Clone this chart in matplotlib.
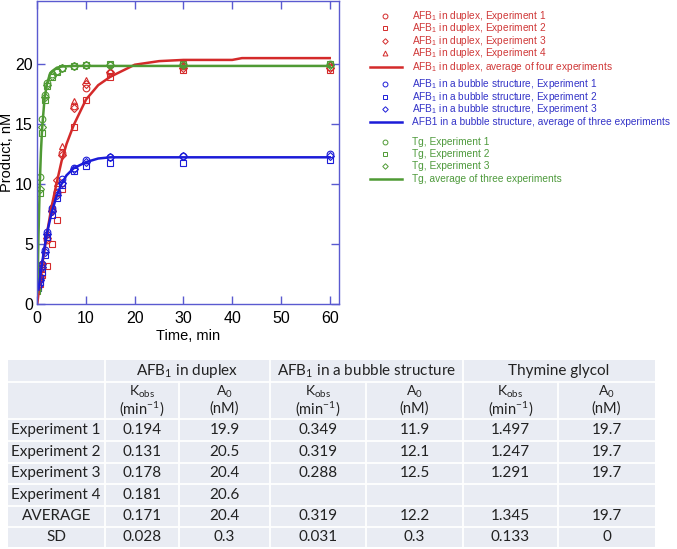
import matplotlib
matplotlib.use("Agg")
import matplotlib.pyplot as plt
from matplotlib.lines import Line2D
from matplotlib.patches import Rectangle

plt.rcParams['mathtext.default'] = 'regular'
plt.rcParams['font.family'] = ['Liberation Sans', 'DejaVu Sans']

# ---------------- data ----------------
t_pts = [0.25, 0.5, 1, 2, 3, 4, 5, 7.5, 10, 15, 30, 60]
duplex_exp1 = [1.9, 2.2, 3.0, 5.3, 7.8, 9.2, 12.6, 16.5, 18.0, 19.2, 19.8, 19.7]
duplex_exp2 = [1.4, 1.7, 2.4, 3.2, 5.0, 7.0, 9.6, 14.7, 17.0, 18.9, 19.5, 19.5]
duplex_exp3 = [2.0, 2.3, 3.3, 5.5, 7.7, 10.3, 12.4, 16.3, 18.3, 19.3, 19.6, 19.6]
duplex_exp4 = [2.1, 2.5, 3.5, 5.8, 8.2, 10.1, 13.1, 16.9, 18.6, 19.5, 19.9, 20.0]

t_bub = [0.25, 0.5, 1, 1.5, 2, 3, 4, 5, 7.5, 10, 15, 30, 60]
bubble_exp1 = [1.6, 2.2, 3.3, 4.5, 6.0, 8.0, 9.3, 10.4, 11.3, 12.0, 12.2, 12.3, 12.45]
bubble_exp2 = [1.3, 1.8, 2.7, 4.1, 5.6, 7.4, 8.8, 9.9, 11.1, 11.5, 11.7, 11.75, 12.0]
bubble_exp3 = [1.5, 2.0, 3.1, 4.3, 5.8, 7.7, 9.1, 10.1, 11.2, 11.8, 12.2, 12.3, 12.3]

t_tg = [0, 0.5, 1, 1.5, 2, 3, 4, 5, 7.5, 10, 15, 30, 60]
tg_exp1 = [1.2, 10.6, 15.4, 17.4, 18.4, 19.1, 19.4, 19.6, 19.8, 19.9, 19.9, 20.0, 20.0]
tg_exp2 = [1.1, 9.2, 14.2, 17.0, 18.1, 18.9, 19.3, 19.6, 19.8, 19.9, 20.0, 20.0, 20.0]
tg_exp3 = [1.2, 9.6, 14.7, 17.2, 18.2, 19.0, 19.4, 19.6, 19.8, 19.9, 19.9, 19.9, 19.9]

t_fit_duplex = [0, 0.5, 1, 2, 3, 4, 5, 6, 7.5, 10, 12.5, 15, 20, 25, 30, 40, 42, 50, 60]
fit_duplex = [0, 1.7, 3.2, 5.9, 8.2, 10.1, 11.9, 13.3, 14.9, 17.0, 18.2, 18.9, 19.9, 20.2, 20.3, 20.3, 20.45, 20.45, 20.45]
t_fit_bubble = [0.25, 0.5, 1, 1.5, 2, 3, 4, 5, 6, 7.5, 10, 12.5, 15, 20, 30, 60]
fit_bubble = [1.2, 1.9, 3.4, 4.7, 5.9, 7.7, 9.0, 10.0, 10.7, 11.3, 11.8, 12.1, 12.2, 12.2, 12.2, 12.2]
t_fit_tg = [0.05, 0.25, 0.5, 0.75, 1, 1.5, 2, 2.5, 3, 4, 5, 7.5, 10, 60]
fit_tg = [1.0, 5.6, 9.7, 12.6, 14.6, 17.1, 18.3, 19.0, 19.35, 19.65, 19.75, 19.8, 19.8, 19.8]

x_ticks = [0, 10, 20, 30, 40, 50, 60]
y_ticks = [0, 5, 10, 15, 20]

legend_labels_duplex = [r"AFB$_1$ in duplex, Experiment 1", r"AFB$_1$ in duplex, Experiment 2",
                        r"AFB$_1$ in duplex, Experiment 3", r"AFB$_1$ in duplex, Experiment 4",
                        r"AFB$_1$ in duplex, average of four experiments"]
legend_labels_bubble = [r"AFB$_1$ in a bubble structure, Experiment 1",
                        r"AFB$_1$ in a bubble structure, Experiment 2",
                        r"AFB$_1$ in a bubble structure, Experiment 3",
                        "AFB1 in a bubble structure, average of three experiments"]
legend_labels_tg = ["Tg, Experiment 1", "Tg, Experiment 2", "Tg, Experiment 3",
                    "Tg, average of three experiments"]

table_groups = [r"AFB$_1$ in duplex", r"AFB$_1$ in a bubble structure", "Thymine glycol"]
table_row_labels = ["Experiment 1", "Experiment 2", "Experiment 3", "Experiment 4", "AVERAGE", "SD"]
table_cells = [
    ["0.194", "19.9", "0.349", "11.9", "1.497", "19.7"],
    ["0.131", "20.5", "0.319", "12.1", "1.247", "19.7"],
    ["0.178", "20.4", "0.288", "12.5", "1.291", "19.7"],
    ["0.181", "20.6", "", "", "", ""],
    ["0.171", "20.4", "0.319", "12.2", "1.345", "19.7"],
    ["0.028", "0.3", "0.031", "0.3", "0.133", "0"],
]

# ---------------- styles ----------------
RED = '#d42a2a'
BLUE = '#1c1cd8'
GREEN = '#4f9a34'
RED_T = '#d03838'
BLUE_T = '#3434c8'
GREEN_T = '#4e9a3c'
AXC = '#5a5ad0'

W, H = 677, 549
fig = plt.figure(figsize=(W / 100, H / 100), dpi=100)

def fr(x0, y0, x1, y1):
    return [x0 / W, 1 - y1 / H, (x1 - x0) / W, (y1 - y0) / H]

ax = fig.add_axes(fr(37, 1, 338.5, 304))
ms = 4.8
mk = dict(linestyle='none', markerfacecolor='none', markersize=ms, markeredgewidth=0.8)

for ys, m in zip([duplex_exp1, duplex_exp2, duplex_exp3, duplex_exp4], ['o', 's', 'D', '^']):
    ax.plot(t_pts, ys, marker=m, color=RED, **({**mk, 'markersize': ms - 1} if m == 'D' else mk))
for ys, m in zip([bubble_exp1, bubble_exp2, bubble_exp3], ['o', 's', 'D']):
    ax.plot(t_bub, ys, marker=m, color=BLUE, **({**mk, 'markersize': ms - 1} if m == 'D' else mk))
for ys, m in zip([tg_exp1, tg_exp2, tg_exp3], ['o', 's', 'D']):
    ax.plot(t_tg, ys, marker=m, color=GREEN, **({**mk, 'markersize': ms - 1} if m == 'D' else mk))

ax.plot(t_fit_duplex, fit_duplex, color=RED, lw=1.8)
ax.plot(t_fit_tg, fit_tg, color=GREEN, lw=1.8)
ax.plot(t_fit_bubble, fit_bubble, color=BLUE, lw=1.8)

ax.set_xlim(-0.05, 61.8)
ax.set_ylim(0, 25.2)
ax.set_xticks(x_ticks)
ax.set_yticks(y_ticks)
for s in ax.spines.values():
    s.set_color(AXC)
    s.set_linewidth(1.0)
ax.tick_params(direction='in', length=6, width=1.0, color=AXC, top=True, right=True,
               labelsize=11.5)
ax.tick_params(axis='y', pad=3)
ax.tick_params(axis='x', pad=5)
ax.set_xlabel("Time, min", fontsize=10.5, labelpad=2)
ax.set_ylabel("Product, nM", fontsize=10.5)
ax.yaxis.set_label_coords(-0.077, 0.5)

# ---------------- legend ----------------
lax = fig.add_axes([0, 0, 1, 1], facecolor='none')
lax.set_xlim(0, W)
lax.set_ylim(H, 0)
lax.axis('off')

def leg_group(labels, markers, color, tcolor, ys):
    for lab, m, y in zip(labels, markers, ys):
        if m is None:
            lax.add_line(Line2D([370, 402], [y, y], color=color, lw=1.8))
        else:
            lax.add_line(Line2D([385], [y], marker=m, markersize=3.5 if m != 'D' else 2.8,
                                markerfacecolor='none', markeredgecolor=color,
                                markeredgewidth=0.7, linestyle='none'))
        lax.text(412, y, lab, color=tcolor, fontsize=7.3, va='center', ha='left')

leg_group(legend_labels_duplex, ['o', 's', 'D', '^', None], RED, RED_T, [15.7, 28.2, 40.6, 53.2, 66.7])
leg_group(legend_labels_bubble, ['o', 's', 'D', None], BLUE, BLUE_T, [84, 97, 109.3, 122])
leg_group(legend_labels_tg, ['o', 's', 'D', None], GREEN, GREEN_T, [142, 154, 166, 178.5])

# ---------------- table ----------------
tx0, tx1 = 8, 655
ty0, ty1 = 360, 547
col_edges = [tx0, 105, 179, 270, 366, 463, 558, tx1]
row_edges = [ty0, 382, 419, 441, 462.5, 484, 505.5, 526.5, ty1]
BG = '#e9ecf3'
TFONT = ['Lato', 'DejaVu Sans']
lax.add_patch(Rectangle((tx0, ty0), tx1 - tx0, ty1 - ty0, facecolor=BG, edgecolor='none'))
for y in row_edges[1:-1]:
    lax.add_line(Line2D([tx0, tx1], [y, y], color='white', lw=1.3))
for i, x in enumerate(col_edges[1:-1]):
    if i in (1, 3, 5):
        lax.add_line(Line2D([x, x], [row_edges[1], ty1], color='white', lw=1.3))
    else:
        lax.add_line(Line2D([x, x], [ty0, ty1], color='white', lw=1.3))

tcol = '#222222'
fs = 11
for g, lab in enumerate(table_groups):
    xc = (col_edges[1 + 2 * g] + col_edges[3 + 2 * g]) / 2
    lax.text(xc, (row_edges[0] + row_edges[1]) / 2 + 0.5, lab, ha='center', va='center',
             fontsize=fs, color=tcol, family=TFONT)
    for j, (a, b) in enumerate([(r"K$_{obs}$", r"(min$^{-1}$)"), (r"A$_0$", "(nM)")]):
        c = 1 + 2 * g + j
        xc2 = (col_edges[c] + col_edges[c + 1]) / 2
        lax.text(xc2, 392, a, ha='center', va='center', fontsize=10, color=tcol, family=TFONT)
        lax.text(xc2, 408.5, b, ha='center', va='center', fontsize=10.5, color=tcol, family=TFONT)

for r, lab in enumerate(table_row_labels):
    yc = (row_edges[2 + r] + row_edges[3 + r]) / 2
    if r < 4:
        lax.text(11, yc, lab, ha='left', va='center', fontsize=fs, color=tcol, family=TFONT)
    else:
        lax.text((col_edges[0] + col_edges[1]) / 2, yc, lab, ha='center', va='center',
                 fontsize=fs, color=tcol, family=TFONT)
    for c, val in enumerate(table_cells[r]):
        xc = (col_edges[1 + c] + col_edges[2 + c]) / 2
        lax.text(xc, yc, val, ha='center', va='center', fontsize=fs, color=tcol, family=TFONT)

fig.savefig("out.png", dpi=100)
